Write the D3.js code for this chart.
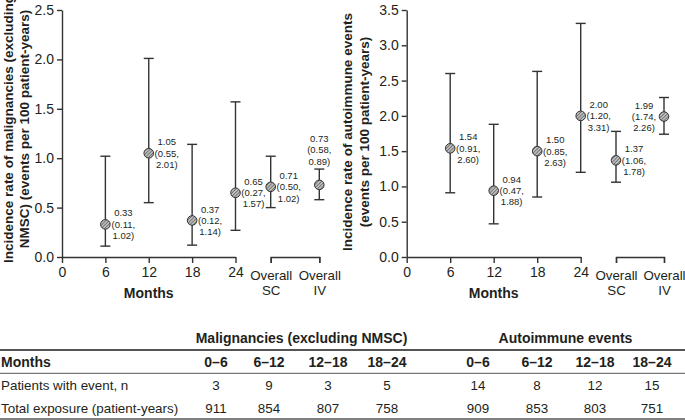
<!DOCTYPE html>
<html>
<head>
<meta charset="utf-8">
<script src="https://cdn.jsdelivr.net/npm/d3@7"></script>
<style>
  html, body { margin: 0; padding: 0; background: #fff; }
  svg { display: block; font-family: "Liberation Sans", Arial, Helvetica, sans-serif; }
</style>
</head>
<body>
<svg id="chart" width="685" height="420"></svg>
<script>
// ---------- DATA ----------
const monthTicks = [0, 6, 12, 18, 24];
const overallCats = ["Overall SC", "Overall IV"];

// Malignancies (excluding NMSC)
const maligMonths = [6, 12, 18, 24];
const maligRate  = [0.33, 1.05, 0.37, 0.65];
const maligLow   = [0.11, 0.55, 0.12, 0.27];
const maligHigh  = [1.02, 2.01, 1.14, 1.57];
const maligOverallRate = [0.71, 0.73];
const maligOverallLow  = [0.50, 0.58];
const maligOverallHigh = [1.02, 0.89];
const maligYTicks = [0, 0.5, 1.0, 1.5, 2.0, 2.5];

// Autoimmune events
const autoMonths = [6, 12, 18, 24];
const autoRate  = [1.54, 0.94, 1.50, 2.00];
const autoLow   = [0.91, 0.47, 0.85, 1.20];
const autoHigh  = [2.60, 1.88, 2.63, 3.31];
const autoOverallRate = [1.37, 1.99];
const autoOverallLow  = [1.06, 1.74];
const autoOverallHigh = [1.78, 2.26];
const autoYTicks = [0, 0.5, 1.0, 1.5, 2.0, 2.5, 3.0, 3.5];

// Table
const tableGroups = ["Malignancies (excluding NMSC)", "Autoimmune events"];
const tableIntervals = ["0–6", "6–12", "12–18", "18–24"];
const maligPatients = [3, 9, 3, 5];
const maligExposure = [911, 854, 807, 758];
const autoPatients  = [14, 8, 12, 15];
const autoExposure  = [909, 853, 803, 751];

// ---------- DRAW ----------
const svg = d3.select("#chart");
const ink = "#231f20";
const axisCol = "#333";

const defs = svg.append("defs");
const pat = defs.append("pattern")
  .attr("id", "hatch").attr("patternUnits", "userSpaceOnUse")
  .attr("width", 2.4).attr("height", 2.4)
  .attr("patternTransform", "rotate(45)");
pat.append("rect").attr("width", 2.4).attr("height", 2.4).attr("fill", "#bdbdbd");
pat.append("line").attr("x1", 0).attr("y1", 0).attr("x2", 0).attr("y2", 2.4)
  .attr("stroke", "#444").attr("stroke-width", 1.1);

function fmt(v) { return d3.format(".2f")(v); }

function panel(cfg) {
  const g = svg.append("g");
  const y = d3.scaleLinear().domain([0, d3.max(cfg.yTicks)]).range([cfg.y0, cfg.yTop]);
  const x = d3.scaleLinear().domain([0, 24]).range([cfg.x0, cfg.x24]);
  const xo = d3.scalePoint().domain(overallCats).range([cfg.xSC, cfg.xIV]);

  const ya = g.append("g").attr("transform", `translate(${cfg.x0},0)`)
    .call(d3.axisLeft(y).tickValues(cfg.yTicks).tickFormat(d3.format(".1f")).tickSize(5).tickSizeOuter(0).tickPadding(3));
  const xa = g.append("g").attr("transform", `translate(0,${cfg.y0})`)
    .call(d3.axisBottom(x).tickValues(monthTicks).tickFormat(d3.format("d")).tickSize(6).tickSizeOuter(0).tickPadding(4));
  const xb = g.append("g").attr("transform", `translate(0,${cfg.y0})`)
    .call(d3.axisBottom(xo).tickSize(6).tickSizeOuter(6).tickPadding(4).tickFormat(""));
  [ya, xa, xb].forEach(a => {
    a.selectAll("path, line").attr("stroke", axisCol).attr("stroke-width", 1.4);
    a.selectAll("text").attr("fill", ink).attr("font-size", 14).attr("font-family", null);
  });
  xb.selectAll(".tick").each(function(d) {
    const parts = d.split(" ");
    const t = d3.select(this).append("text").attr("fill", ink).attr("font-size", 13.3)
      .attr("text-anchor", "middle").attr("y", 23);
    t.append("tspan").attr("x", 0).text(parts[0]);
    t.append("tspan").attr("x", 0).attr("dy", 14.5).text(parts[1]);
  });

  g.append("text").attr("x", (cfg.x0 + cfg.x24) / 2).attr("y", cfg.y0 + 41)
    .attr("text-anchor", "middle").attr("font-weight", "bold").attr("font-size", 14)
    .attr("fill", ink).text("Months");
  const yt = g.append("text").attr("transform", `translate(${cfg.titleX},${cfg.titleY}) rotate(-90)`)
    .attr("text-anchor", "middle").attr("font-weight", "bold").attr("font-size", 13.5).attr("fill", ink);
  yt.append("tspan").attr("x", 0).attr("y", 0).text(cfg.title[0]);
  yt.append("tspan").attr("x", 0).attr("y", cfg.titleGap).text(cfg.title[1]);

  const pts = cfg.months.map((m, i) => ({ px: x(m), r: cfg.rate[i], lo: cfg.low[i], hi: cfg.high[i], side: "right" }))
    .concat(overallCats.map((c, i) => ({ px: xo(c), r: cfg.oRate[i], lo: cfg.oLow[i], hi: cfg.oHigh[i], side: cfg.oSide[i] })));

  const pg = g.selectAll("g.pt").data(pts).enter().append("g").attr("class", "pt");
  pg.append("line").attr("x1", d => d.px).attr("x2", d => d.px)
    .attr("y1", d => y(d.lo)).attr("y2", d => y(d.hi))
    .attr("stroke", axisCol).attr("stroke-width", 1.4);
  ["lo", "hi"].forEach(k => {
    pg.append("line").attr("x1", d => d.px - 5).attr("x2", d => d.px + 5)
      .attr("y1", d => y(d[k])).attr("y2", d => y(d[k]))
      .attr("stroke", axisCol).attr("stroke-width", 1.4);
  });
  pg.append("circle").attr("cx", d => d.px).attr("cy", d => y(d.r)).attr("r", 4.8)
    .attr("fill", "url(#hatch)").attr("stroke", "#333").attr("stroke-width", 1);

  const lab = pg.append("text").attr("font-size", 9.5).attr("fill", ink).attr("text-anchor", "middle");
  lab.each(function(d) {
    const t = d3.select(this);
    let cx, cy;
    if (d.side === "right") { cx = d.px + 18; cy = y(d.r); }
    else if (d.side === "left") { cx = d.px - 20; cy = y(d.r); }
    else { cx = d.px; cy = y(d.hi) - 19; }
    const lines = [fmt(d.r), "(" + fmt(d.lo) + ",", fmt(d.hi) + ")"];
    lines.forEach((s, i) => {
      t.append("tspan").attr("x", cx).attr("y", cy + (i - 1) * 11.3 + 3.4).text(s);
    });
  });
}

panel({
  x0: 62, x24: 235.5, xSC: 270.7, xIV: 319.3, y0: 257, yTop: 10,
  yTicks: maligYTicks, months: maligMonths, rate: maligRate, low: maligLow, high: maligHigh,
  oRate: maligOverallRate, oLow: maligOverallLow, oHigh: maligOverallHigh, oSide: ["right", "above"],
  title: ["Incidence rate of malignancies (excluding", "NMSC) (events per 100 patient-years)"],
  titleX: 12.5, titleY: 129, titleGap: 16
});
panel({
  x0: 406.7, x24: 580.7, xSC: 616, xIV: 664, y0: 257, yTop: 10,
  yTicks: autoYTicks, months: autoMonths, rate: autoRate, low: autoLow, high: autoHigh,
  oRate: autoOverallRate, oLow: autoOverallLow, oHigh: autoOverallHigh, oSide: ["right", "left"],
  title: ["Incidence rate of autoimmune events", "(events per 100 patient-years)"],
  titleX: 352, titleY: 132, titleGap: 17
});

// ---------- TABLE ----------
const tg = svg.append("g").attr("font-size", 13.4).attr("fill", ink);
const colX = [216, 269, 328, 387, 478, 537, 595, 652];
const groupX = [(colX[0] + colX[3]) / 2, (colX[4] + colX[7]) / 2 + 0.5];

tg.selectAll("text.grp").data(tableGroups).enter().append("text")
  .attr("x", (d, i) => groupX[i]).attr("y", 343).attr("text-anchor", "middle")
  .attr("font-size", 14).attr("font-weight", "bold").text(d => d);

tg.append("line").attr("x1", 0).attr("x2", 685).attr("y1", 350).attr("y2", 350)
  .attr("stroke", "#555").attr("stroke-width", 2);
tg.append("line").attr("x1", 0).attr("x2", 685).attr("y1", 373.3).attr("y2", 373.3)
  .attr("stroke", "#555").attr("stroke-width", 1);
tg.append("line").attr("x1", 0).attr("x2", 685).attr("y1", 419).attr("y2", 419)
  .attr("stroke", "#555").attr("stroke-width", 1.5);

const rowLabels = ["Months", "Patients with event, n", "Total exposure (patient-years)"];
const rowY = [366.7, 390, 413.3];
tg.selectAll("text.rl").data(rowLabels).enter().append("text")
  .attr("x", 1).attr("y", (d, i) => rowY[i])
  .attr("font-weight", (d, i) => i === 0 ? "bold" : null)
  .attr("font-size", (d, i) => i === 0 ? 14 : 13.4)
  .text(d => d);

const headerCells = tableIntervals.concat(tableIntervals);
const row1 = maligPatients.concat(autoPatients);
const row2 = maligExposure.concat(autoExposure);
[[headerCells, true], [row1, false], [row2, false]].forEach(([cells, bold], r) => {
  tg.selectAll(null).data(cells).enter().append("text")
    .attr("x", (d, i) => colX[i]).attr("y", rowY[r]).attr("text-anchor", "middle")
    .attr("font-size", bold ? 14 : 13.4)
    .attr("font-weight", bold ? "bold" : null).text(d => d);
});
</script>
</body>
</html>
